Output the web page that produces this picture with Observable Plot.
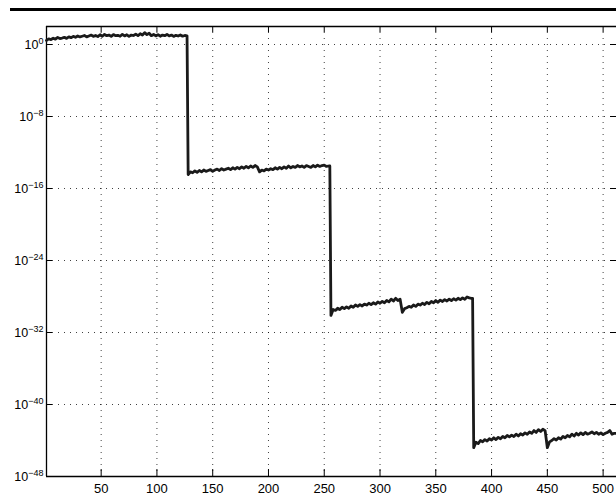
<!DOCTYPE html>
<html>
<head>
<meta charset="utf-8">
<script src="https://cdn.jsdelivr.net/npm/d3@7"></script>
<script src="https://cdn.jsdelivr.net/npm/@observablehq/plot@0.6"></script>
<style>
  html, body { margin: 0; padding: 0; background: #fff; }
  #wrap { position: relative; width: 616px; height: 503px; overflow: hidden; }
  #topRule { position: absolute; left: 10px; top: 8px; width: 606px; height: 3px; background: #000; }
</style>
</head>
<body>
<div id="wrap"><div id="topRule"></div></div>
<script>
// log10 of the plotted values, sampled every 2 steps within each block
const seg1 = [0.45,0.62,0.55,0.7,0.6,0.78,0.66,0.72,0.8,0.68,0.85,0.76,0.9,0.8,0.95,0.84,0.92,1.0,0.85,0.95,1.05,0.9,1.0,0.88,1.08,0.92,1.12,0.98,1.05,0.9,1.1,0.98,1.02,0.92,1.12,0.95,1.08,0.9,1.05,1.0,1.15,0.98,1.2,1.05,1.32,1.1,1.25,0.98,1.12,0.95,1.1,0.92,1.05,0.98,1.12,0.95,1.05,0.9,1.02,0.94,1.06,0.92,1.0,0.96];
const seg2 = [-14.45,-14.15,-14.25,-14.05,-14.2,-14.0,-14.15,-13.95,-14.1,-14.0,-13.9,-14.1,-13.95,-13.85,-14.0,-13.8,-13.95,-13.85,-13.75,-13.9,-13.7,-13.85,-13.65,-13.8,-13.6,-13.75,-13.55,-13.7,-13.5,-13.65,-13.45,-13.6,-14.15,-13.95,-14.05,-13.85,-13.95,-13.8,-13.9,-13.7,-13.85,-13.65,-13.8,-13.6,-13.75,-13.5,-13.7,-13.55,-13.65,-13.45,-13.6,-13.5,-13.65,-13.45,-13.55,-13.65,-13.45,-13.6,-13.4,-13.55,-13.45,-13.4,-13.55,-13.5];
const seg3 = [-30.1,-29.45,-29.55,-29.3,-29.45,-29.2,-29.35,-29.15,-29.3,-29.05,-29.2,-28.95,-29.1,-28.9,-29.05,-28.85,-28.95,-28.75,-28.9,-28.7,-28.85,-28.6,-28.75,-28.55,-28.7,-28.45,-28.6,-28.3,-28.5,-28.2,-28.45,-28.3,-29.75,-29.35,-29.25,-29.1,-29.2,-28.95,-29.1,-28.85,-28.95,-28.75,-28.9,-28.65,-28.8,-28.55,-28.7,-28.45,-28.65,-28.4,-28.55,-28.35,-28.5,-28.3,-28.45,-28.25,-28.4,-28.2,-28.35,-28.15,-28.3,-28.05,-28.15,-28.2];
const seg4 = [-44.8,-44.2,-44.35,-44.0,-44.15,-43.9,-44.05,-43.8,-43.95,-43.7,-43.9,-43.65,-43.8,-43.55,-43.7,-43.45,-43.6,-43.4,-43.55,-43.3,-43.5,-43.25,-43.4,-43.15,-43.3,-43.05,-43.2,-42.9,-43.1,-42.8,-43.0,-42.75,-42.9,-44.8,-44.15,-44.0,-43.8,-43.95,-43.7,-43.85,-43.55,-43.7,-43.45,-43.6,-43.3,-43.5,-43.2,-43.4,-43.15,-43.35,-43.1,-43.3,-43.2,-43.05,-43.25,-43.1,-43.3,-43.15,-43.35,-43.2,-43.1,-42.9,-43.3,-43.2];
const segStarts = [1, 128, 256, 384];
const segEnds = [127, 255, 383, 512];
const sampleStep = 2;
const xTicks = [50, 100, 150, 200, 250, 300, 350, 400, 450, 500];
const yTickExps = [0, -8, -16, -24, -32, -40, -48];
const xDomain = [1, 512];
const yDomainExp = [-48, 2];

const segs = [seg1, seg2, seg3, seg4];
const data = [];
segs.forEach((s, k) => {
  s.forEach((v, i) => data.push({x: segStarts[k] + sampleStep * i, y: Math.pow(10, v)}));
  const lastX = segStarts[k] + sampleStep * (s.length - 1);
  if (segEnds[k] > lastX) data.push({x: segEnds[k], y: Math.pow(10, s[s.length - 1])});
});
const yTicks = yTickExps.map(e => Math.pow(10, e));
const yDomain = yDomainExp.map(e => Math.pow(10, e));

const gridStyle = {stroke: "#000", strokeOpacity: 0.75, strokeDasharray: "1,5", strokeWidth: 1};

const chart = Plot.plot({
  width: 616,
  height: 503,
  marginTop: 26,
  marginBottom: 27,
  marginLeft: 46,
  marginRight: 0,
  style: {fontFamily: "'Liberation Sans', Arial, Helvetica, sans-serif", fontSize: "12px", background: "transparent", color: "#000"},
  x: {domain: xDomain},
  y: {type: "log", domain: yDomain},
  marks: [
    Plot.gridX(xTicks, gridStyle),
    Plot.gridY(yTicks, gridStyle),
    Plot.axisX(xTicks, {anchor: "bottom", tickSize: 0, tickPadding: 7, label: null, fontSize: 13}),
    Plot.axisX(xTicks, {anchor: "bottom", tickSize: -7, tickFormat: () => "", label: null}),
    Plot.axisX(xTicks, {anchor: "top", tickSize: -5, tickFormat: () => "", label: null}),
    Plot.axisY(yTicks, {anchor: "left", tickSize: 0, tickPadding: 3, label: null, fontSize: 12.5, tickFormat: d => String(Math.round(Math.log10(d)))}),
    Plot.axisY(yTicks, {anchor: "left", tickSize: -6, tickFormat: () => "", label: null}),
    Plot.axisY(yTicks, {anchor: "right", tickSize: -7, tickFormat: () => "", label: null}),
    Plot.ruleX([xDomain[0]], {stroke: "#000", strokeWidth: 1.3}),
    Plot.ruleY(yDomain, {stroke: "#000", strokeWidth: 1.3}),
    Plot.line(data, {x: "x", y: "y", stroke: "#1a1a1a", strokeWidth: 2.8, strokeLinejoin: "round", strokeLinecap: "round"})
  ]
});

// superscript exponents on the y tick labels
const ns = "http://www.w3.org/2000/svg";
chart.querySelectorAll('g[aria-label="y-axis tick label"] text').forEach(t => {
  const e = t.textContent;
  if (e === "") return;
  t.textContent = "10";
  const ts = document.createElementNS(ns, "tspan");
  ts.setAttribute("dy", "-0.55em");
  ts.setAttribute("font-size", "9");
  ts.textContent = e.replace("-", "\u2212");
  t.appendChild(ts);
});

document.getElementById("wrap").appendChild(chart);
chart.style.position = "absolute";
chart.style.left = "0";
chart.style.top = "0";
</script>
</body>
</html>
